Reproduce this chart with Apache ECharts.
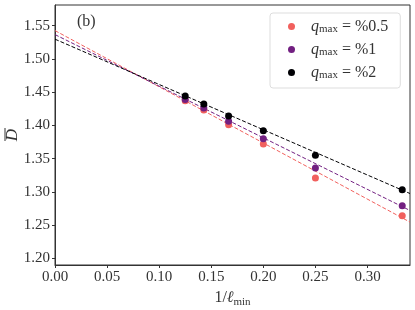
<!DOCTYPE html>
<html>
<head>
<meta charset="utf-8">
<script src="https://cdn.jsdelivr.net/npm/echarts@6/dist/echarts.min.js"></script>
<style>html,body{margin:0;padding:0;background:#fff}#c{width:415px;height:310px}</style>
</head>
<body>
<div id="c"></div>
<script>
// data
const xVals = [0.125, 0.142857, 0.166667, 0.2, 0.25, 0.333333];
const yRed = [1.437, 1.423, 1.401, 1.372, 1.321, 1.264];
const yPurple = [1.439, 1.426, 1.406, 1.380, 1.336, 1.279];
const yBlack = [1.444, 1.432, 1.414, 1.392, 1.355, 1.303];
const fitX = [0, 0.3408];
const fitRed = [1.5425, 1.2545];
const fitPurple = [1.5365, 1.2720];
const fitBlack = [1.5296, 1.2975];
const legendLabels = ['%0.5', '%1', '%2'];
const xTicks = [0, 0.05, 0.10, 0.15, 0.20, 0.25, 0.30];
const yTicks = [1.20, 1.25, 1.30, 1.35, 1.40, 1.45, 1.50, 1.55];

const C_RED = '#f1605d', C_PUR = '#721f81', C_BLK = '#000004';
const FONT = 'Liberation Serif';
const pair = (xs, ys) => xs.map((x, i) => [x, ys[i]]);

const chart = echarts.init(document.getElementById('c'), null, {renderer: 'canvas'});
const names = ['s05', 's1', 's2'];
const scat = (name, ys, color) => ({
  name, type: 'scatter', data: pair(xVals, ys), symbol: 'circle', symbolSize: 7,
  itemStyle: {color, opacity: 1}, z: 3
});
const fit = (ys, color) => ({
  type: 'line', data: pair(fitX, ys), showSymbol: false, symbol: 'none',
  lineStyle: {color, width: 1, type: [4, 2]}, z: 2, silent: true
});
chart.setOption({
  animation: false,
  grid: {left: 55, top: 5, right: 5, bottom: 45, outerBoundsMode: 'none', containLabel: false,
         show: true, borderColor: '#333', borderWidth: 1, backgroundColor: 'transparent'},
  xAxis: {
    type: 'value', min: 0, max: 0.3408,
    name: '{a|1/}{l|ℓ}{s|min}', nameLocation: 'middle', nameGap: 22,
    nameTextStyle: {rich: {
      a: {fontFamily: FONT, fontSize: 16, color: '#333'},
      l: {fontFamily: FONT, fontSize: 16, fontStyle: 'italic', color: '#333'},
      s: {fontFamily: FONT, fontSize: 11, color: '#333', padding: [8, 0, 0, 0]}
    }},
    axisLine: {lineStyle: {color: '#333', width: 1}},
    axisTick: {customValues: xTicks, length: 3, lineStyle: {color: '#333'}},
    axisLabel: {customValues: xTicks, formatter: v => v.toFixed(2), fontFamily: FONT, fontSize: 15, color: '#333', margin: 5},
    splitLine: {show: false}
  },
  yAxis: {
    type: 'value', min: 1.19, max: 1.581,
    axisLine: {show: true, lineStyle: {color: '#333', width: 1}},
    axisTick: {show: true, customValues: yTicks, length: 3, lineStyle: {color: '#333'}},
    axisLabel: {customValues: yTicks, formatter: v => v.toFixed(2), fontFamily: FONT, fontSize: 15, color: '#333', margin: 5},
    splitLine: {show: false}
  },
  legend: {
    data: names, orient: 'vertical', left: 270, top: 13,
    padding: [5, 12, 7, 18],
    backgroundColor: '#fff', borderColor: '#ddd', borderWidth: 1, borderRadius: 3,
    itemWidth: 7, itemHeight: 7, itemGap: 6, icon: 'circle',
    formatter: n => '{q|q}{s|max}{t| = ' + legendLabels[names.indexOf(n)] + '}',
    textStyle: {padding: [0, 0, 0, 11], rich: {
      q: {fontFamily: FONT, fontSize: 16, fontStyle: 'italic', color: '#333', lineHeight: 18},
      s: {fontFamily: FONT, fontSize: 11, color: '#333', padding: [6, 0, 0, 0], lineHeight: 18},
      t: {fontFamily: FONT, fontSize: 16, color: '#333', lineHeight: 18}
    }}
  },
  graphic: [
    {type: 'text', left: 77, top: 14, style: {text: '(b)', font: '16px "Liberation Serif"', fill: '#333'}},
    {type: 'text', x: 13, y: 135, rotation: Math.PI / 2,
     style: {text: 'D', font: 'italic 17px "Liberation Serif"', fill: '#333', align: 'center', verticalAlign: 'middle'}},
    {type: 'line', shape: {x1: 5, y1: 128, x2: 5, y2: 141}, style: {stroke: '#333', lineWidth: 1}}
  ],
  series: [
    fit(fitRed, C_RED), fit(fitPurple, C_PUR), fit(fitBlack, C_BLK),
    scat('s05', yRed, C_RED), scat('s1', yPurple, C_PUR), scat('s2', yBlack, C_BLK)
  ]
});
</script>
</body>
</html>
